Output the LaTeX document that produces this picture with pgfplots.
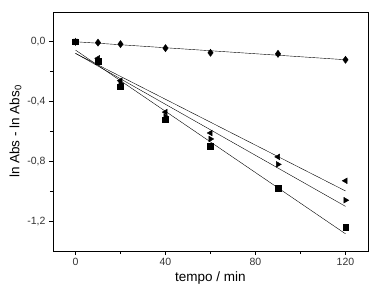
\documentclass[border=0pt]{standalone}
\usepackage{pgfplots}
\pgfplotsset{compat=1.18}
\usepackage{fontspec}
\setmainfont{Liberation Sans}
\begin{document}
\begin{tikzpicture}
\begin{axis}[
  scale only axis,
  width=315pt, height=239pt,
  xmin=-10, xmax=130, ymin=-1.4, ymax=0.2,
  xtick={0,40,80,120}, ytick={0,-0.4,-0.8,-1.2},
  minor xtick={20,60,100}, minor ytick={-0.2,-0.6,-1.0},
  tick pos=left, tick align=outside,
  major tick length=4pt, minor tick length=3pt,
  every tick/.style={black, line width=0.8pt},
  axis line style={line width=0.9pt},
  /pgf/number format/assume math mode=true,
  yticklabel style={/pgf/number format/.cd, fixed, fixed zerofill, precision=1, use comma},
  xticklabel style={/pgf/number format/.cd, fixed},
  ticklabel style={font=\fontsize{10.5}{12}\selectfont, color=black!80},
  xlabel={tempo / min}, ylabel={ln Abs - ln Abs\textsubscript{0}},
  label style={font=\fontsize{13.5}{15}\selectfont},
  xlabel style={yshift=1pt},
  ylabel style={yshift=-1pt},
  every axis plot/.append style={black},
]
% fit lines
\addplot[thin, no marks] coordinates {(0,0.0009) (120,-0.1196)};
\addplot[thin, no marks] coordinates {(0,-0.0549) (120,-1.285)};
\addplot[thin, no marks] coordinates {(0,-0.0765) (120,-1.101)};
\addplot[thin, no marks] coordinates {(0,-0.0776) (120,-0.998)};
% data
\addplot[only marks, mark=diamond*, mark size=3.6pt] coordinates {
 (0,0) (10,-0.005) (20,-0.015) (40,-0.042) (60,-0.073) (90,-0.08) (120,-0.12)};
\addplot[only marks, mark=square*, mark size=2.8pt] coordinates {
 (0,0) (10,-0.13) (20,-0.30) (40,-0.52) (60,-0.70) (90,-0.98) (120,-1.24)};
\addplot[only marks, mark=triangle*, mark size=3.3pt, mark options={rotate=-90}] coordinates {
 (0,0) (10,-0.13) (20,-0.28) (40,-0.50) (60,-0.65) (90,-0.82) (120,-1.06)};
\addplot[only marks, mark=triangle*, mark size=3.3pt, mark options={rotate=90}] coordinates {
 (0,0) (10,-0.11) (20,-0.26) (40,-0.47) (60,-0.61) (90,-0.77) (120,-0.93)};
\end{axis}
\path ([xshift=-53pt,yshift=-44pt]current axis.south west) rectangle ([xshift=10pt,yshift=12pt]current axis.north east);
\end{tikzpicture}
\end{document}
